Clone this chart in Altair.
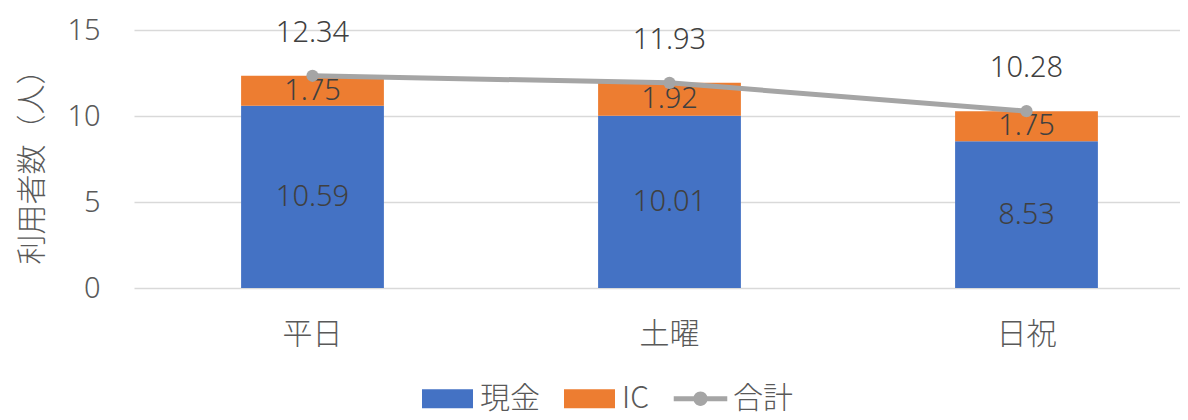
import altair as alt
import pandas as pd

# ---- data ----
categories = ["平日", "土曜", "日祝"]
cash = [10.59, 10.01, 8.53]
ic = [1.75, 1.92, 1.75]
total = [12.34, 11.93, 10.28]
series = ["現金", "IC", "合計"]
colors = ["#4472C4", "#ED7D31", "#A5A5A5"]
y_ticks = [0, 5, 10, 15]

FONT = "Noto Sans CJK JP"
NUM_FONT = "Noto Sans"
TXT = "#404040"
AX = "#595959"

rows = []
for i, c in enumerate(categories):
    rows.append({"区分": c, "系列": series[0], "値": cash[i], "順": 0})
    rows.append({"区分": c, "系列": series[1], "値": ic[i], "順": 1})
bars_df = pd.DataFrame(rows)
tot_df = pd.DataFrame({"区分": categories, "合計": total, "系列": [series[2]] * 3})

RECT_PATH = "M-1,-0.37L1,-0.37L1,0.37L-1,0.37Z"
LINE_PATH = ("M-1.05,-0.1L1.05,-0.1L1.05,0.1L-1.05,0.1Z "
             "M0.28,0A0.28,0.28,0,1,1,-0.28,0A0.28,0.28,0,1,1,0.28,0Z")

legend = alt.Legend(
    orient="none", legendX=288, legendY=343, direction="horizontal",
    title=None, symbolSize=2601, labelFontSize=30, labelFont=FONT,
    labelColor=AX, labelFontWeight=300, labelOffset=7, columnPadding=24,
    padding=0, symbolStrokeWidth=0, symbolOpacity=1,
)
color_enc = alt.Color("系列:N", scale=alt.Scale(domain=series, range=colors),
                      legend=legend)
shape_enc = alt.Shape("系列:N",
                      scale=alt.Scale(domain=series,
                                      range=[RECT_PATH, RECT_PATH, LINE_PATH]),
                      legend=legend)

x_enc = alt.X(
    "区分:N", sort=categories,
    scale=alt.Scale(range=[0, 1071], paddingInner=0.6, paddingOuter=0.3),
    axis=alt.Axis(title=None, labelAngle=0, domain=False, ticks=False,
                  labelPadding=31, labelFontSize=30, labelFont=FONT,
                  labelColor=AX, labelFontWeight=300),
)
y_scale = alt.Scale(domain=[0, 15])

base = alt.Chart(bars_df).transform_stack(
    stack="値", groupby=["区分"], as_=["y0", "y1"],
    sort=[alt.SortField("順", order="ascending")],
).transform_calculate(mid="(datum.y0 + datum.y1) / 2")

bars = base.mark_bar().encode(
    x=x_enc,
    y=alt.Y("y0:Q", scale=y_scale,
            axis=alt.Axis(values=y_ticks, title="利用者数（人）", domain=False,
                          ticks=False, labelPadding=34, labelFontSize=29,
                          labelFont=NUM_FONT, labelColor=AX, labelFontWeight=300,
                          gridColor="#D9D9D9", gridWidth=1.5,
                          titleFont=FONT, titleFontSize=30, titleColor=AX,
                          titleFontWeight=300, titleX=-102, titleY=129,
                          titleAlign="center", titleBaseline="middle",
                          titleAngle=270)),
    y2="y1:Q",
    color=color_enc,
)

seg_labels = base.mark_text(
    font=NUM_FONT, fontSize=29, fontWeight=300, color=TXT, baseline="middle", dy=0
).encode(
    x=alt.X("区分:N", sort=categories),
    y=alt.Y("mid:Q", scale=y_scale),
    text=alt.Text("値:Q", format=".2f"),
)

tot_base = alt.Chart(tot_df).encode(
    x=alt.X("区分:N", sort=categories),
    y=alt.Y("合計:Q", scale=y_scale),
)
line = tot_base.mark_line(color=colors[2], strokeWidth=5, strokeCap="round")
points = tot_base.mark_circle(color=colors[2], size=150, opacity=1)
legend_carrier = tot_base.mark_point(filled=True, opacity=0).encode(
    color=color_enc, shape=shape_enc
)
tot_labels = tot_base.mark_text(
    font=NUM_FONT, fontSize=29, fontWeight=300, color=TXT, baseline="alphabetic", dy=-34
).encode(text=alt.Text("合計:Q", format=".2f"))

chart = alt.layer(bars, seg_labels, line, points, legend_carrier, tot_labels).properties(
    width=1046, height=258,
    autosize=alt.AutoSizeParams(type="none"),
    padding={"left": 126, "top": 22, "right": 0, "bottom": 124},
).configure_view(stroke=None)

chart.save("out.html", embed_options={"renderer": "svg", "actions": False})
